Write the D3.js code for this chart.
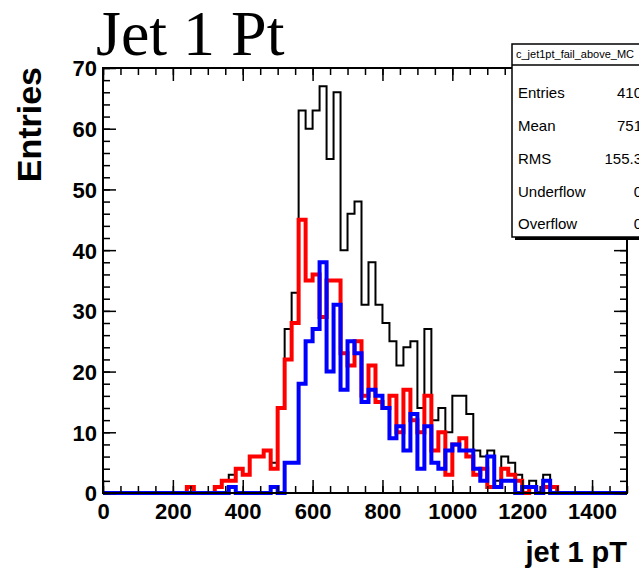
<!DOCTYPE html>
<html>
<head>
<meta charset="utf-8">
<script src="https://cdn.jsdelivr.net/npm/d3@7"></script>
<style>
    body { margin: 0; background: #fff; overflow: hidden; }
    svg { display: block; }
</style>
</head>
<body>
<div id="container"></div>
<script>
    // histogram bins: 20 GeV wide, 0 - 1500
    const binWidth = 20;
    const xMin = 0, xMax = 1500;

    const blackCounts = [
        0, 0, 0, 0, 0, 0, 0, 0, 0, 0,
        0, 0, 1, 0, 0, 0, 1, 2, 3, 4,
        3, 6, 6, 7, 5, 14, 27, 33, 63, 60,
        63, 67, 55, 66, 40, 46, 48, 31, 38, 31,
        28, 25, 21, 24, 25, 14, 27, 12, 14, 10,
        16, 16, 13, 7, 6, 7, 2, 6, 5, 3,
        1, 2, 0, 3, 1, 0, 0, 0, 0, 0,
        0, 0, 0, 0, 0
    ];
    const redCounts = [
        0, 0, 0, 0, 0, 0, 0, 0, 0, 0,
        0, 0, 1, 0, 0, 0, 1, 2, 2, 4,
        3, 6, 6, 7, 4, 14, 22, 28, 45, 35,
        36, 29, 35, 35, 23, 21, 25, 16, 21, 15,
        14, 16, 10, 17, 12, 10, 16, 7, 10, 3,
        8, 9, 6, 3, 4, 1, 1, 4, 3, 2,
        0, 1, 0, 1, 1, 0, 0, 0, 0, 0,
        0, 0, 0, 0, 0
    ];
    const blueCounts = [
        0, 0, 0, 0, 0, 0, 0, 0, 0, 0,
        0, 0, 0, 0, 0, 0, 0, 0, 1, 0,
        0, 0, 0, 0, 1, 0, 5, 5, 18, 25,
        27, 38, 20, 31, 17, 25, 23, 15, 17, 16,
        14, 9, 11, 7, 13, 4, 11, 5, 4, 7,
        8, 7, 7, 4, 2, 6, 1, 2, 2, 0,
        1, 1, 0, 2, 0, 0, 0, 0, 0, 0,
        0, 0, 0, 0, 0
    ];

    const xTickValues = [0, 200, 400, 600, 800, 1000, 1200, 1400];
    const yTickValues = [0, 10, 20, 30, 40, 50, 60, 70];

    const statsTitle = "c_jet1pt_fail_above_MC";
    const statsLabels = ["Entries", "Mean", "RMS", "Underflow", "Overflow"];
    const statsValues = ["410", "751", "155.3", "0", "0"];

    const width = 639, height = 576;
    const frame = { left: 103, right: 627, top: 68, bottom: 493 };

    const x = d3.scaleLinear().domain([xMin, xMax]).range([frame.left, frame.right]);
    const y = d3.scaleLinear().domain([0, 70]).range([frame.bottom, frame.top]);

    const svg = d3.select("#container").append("svg")
        .attr("width", width)
        .attr("height", height);

    const sans = "'Liberation Sans', Arial, Helvetica, sans-serif";

    // ---- histograms ----
    function stepPoints(counts) {
        const pts = [[xMin, 0]];
        counts.forEach((c, i) => {
            pts.push([i * binWidth, c]);
            pts.push([(i + 1) * binWidth, c]);
        });
        pts.push([xMax, 0]);
        return pts;
    }
    const line = d3.line().x(d => x(d[0])).y(d => y(d[1]));

    const histGroup = svg.append("g");
    [
        { counts: blackCounts, color: "#000", w: 2 },
        { counts: redCounts, color: "#ff0000", w: 4 },
        { counts: blueCounts, color: "#0000ff", w: 4 }
    ].forEach(h => {
        histGroup.append("path")
            .attr("d", line(stepPoints(h.counts)))
            .attr("fill", "none")
            .attr("stroke", h.color)
            .attr("stroke-width", h.w)
            .attr("stroke-linejoin", "miter");
    });

    // ---- axes (ticks point inside the frame) ----
    const xMinor = d3.range(0, xMax + 1, 50);
    const yMinor = d3.range(0, 71, 2);

    function styleAxis(g) {
        g.select(".domain").remove();
        g.selectAll("line").attr("stroke", "#000").attr("stroke-width", 1.5);
    }

    svg.append("g").attr("transform", `translate(0,${frame.bottom})`)
        .call(d3.axisBottom(x).tickValues(xMinor).tickSize(-7).tickFormat(""))
        .call(styleAxis);
    svg.append("g").attr("transform", `translate(0,${frame.top})`)
        .call(d3.axisTop(x).tickValues(xMinor).tickSize(-7).tickFormat(""))
        .call(styleAxis);
    svg.append("g").attr("transform", `translate(${frame.left},0)`)
        .call(d3.axisLeft(y).tickValues(yMinor).tickSize(-7).tickFormat(""))
        .call(styleAxis);
    svg.append("g").attr("transform", `translate(${frame.right},0)`)
        .call(d3.axisRight(y).tickValues(yMinor).tickSize(-7).tickFormat(""))
        .call(styleAxis);

    const xAxis = svg.append("g").attr("transform", `translate(0,${frame.bottom})`)
        .call(d3.axisBottom(x).tickValues(xTickValues).tickSize(-13).tickPadding(10)
            .tickFormat(d3.format("d")))
        .call(styleAxis);
    svg.append("g").attr("transform", `translate(0,${frame.top})`)
        .call(d3.axisTop(x).tickValues(xTickValues).tickSize(-13).tickFormat(""))
        .call(styleAxis);
    const yAxis = svg.append("g").attr("transform", `translate(${frame.left},0)`)
        .call(d3.axisLeft(y).tickValues(yTickValues).tickSize(-13).tickPadding(6))
        .call(styleAxis);
    svg.append("g").attr("transform", `translate(${frame.right},0)`)
        .call(d3.axisRight(y).tickValues(yTickValues).tickSize(-13).tickFormat(""))
        .call(styleAxis);

    [xAxis, yAxis].forEach(a => a.selectAll("text")
        .attr("fill", "#000")
        .style("font-family", sans)
        .style("font-weight", "bold")
        .style("font-size", "22px"));
    yAxis.selectAll("text").attr("dy", "0.36em");

    // frame
    svg.append("rect")
        .attr("x", frame.left).attr("y", frame.top)
        .attr("width", frame.right - frame.left)
        .attr("height", frame.bottom - frame.top)
        .attr("fill", "none")
        .attr("stroke", "#000")
        .attr("stroke-width", 2);

    // ---- titles ----
    svg.append("text")
        .attr("x", 96).attr("y", 55)
        .style("font-family", "'Liberation Serif', 'Times New Roman', serif")
        .style("font-size", "64px")
        .text("Jet 1 Pt");

    svg.append("text")
        .attr("transform", `translate(41,${frame.top - 1}) rotate(-90)`)
        .attr("text-anchor", "end")
        .style("font-family", sans)
        .style("font-weight", "bold")
        .style("font-size", "34px")
        .text("Entries");

    svg.append("text")
        .attr("x", frame.right).attr("y", 562)
        .attr("text-anchor", "end")
        .style("font-family", sans)
        .style("font-weight", "bold")
        .style("font-size", "29px")
        .text("jet 1 pT");

    // ---- stats box ----
    const box = { left: 512, top: 44, right: 648, bottom: 237, header: 65 };
    const stats = svg.append("g");
    stats.append("rect")
        .attr("x", box.left + 3).attr("y", box.top + 3)
        .attr("width", box.right - box.left).attr("height", box.bottom - box.top)
        .attr("fill", "#000");
    stats.append("rect")
        .attr("x", box.left).attr("y", box.top)
        .attr("width", box.right - box.left).attr("height", box.bottom - box.top)
        .attr("fill", "#fff")
        .attr("stroke", "#000")
        .attr("stroke-width", 1.5);
    stats.append("line")
        .attr("x1", box.left).attr("x2", box.right)
        .attr("y1", box.header).attr("y2", box.header)
        .attr("stroke", "#000").attr("stroke-width", 1.5);
    stats.append("text")
        .attr("x", box.left + 4).attr("y", box.header - 7)
        .style("font-family", sans)
        .style("font-size", "11px")
        .text(statsTitle);

    const rowY = d3.scalePoint().domain(statsLabels).range([93, 224]);
    statsLabels.forEach((lab, i) => {
        stats.append("text")
            .attr("x", box.left + 6).attr("y", rowY(lab)).attr("dy", "0.36em")
            .style("font-family", sans)
            .style("font-size", "15px")
            .text(lab);
        stats.append("text")
            .attr("x", 642).attr("y", rowY(lab)).attr("dy", "0.36em")
            .attr("text-anchor", "end")
            .style("font-family", sans)
            .style("font-size", "15px")
            .text(statsValues[i]);
    });
</script>
</body>
</html>
